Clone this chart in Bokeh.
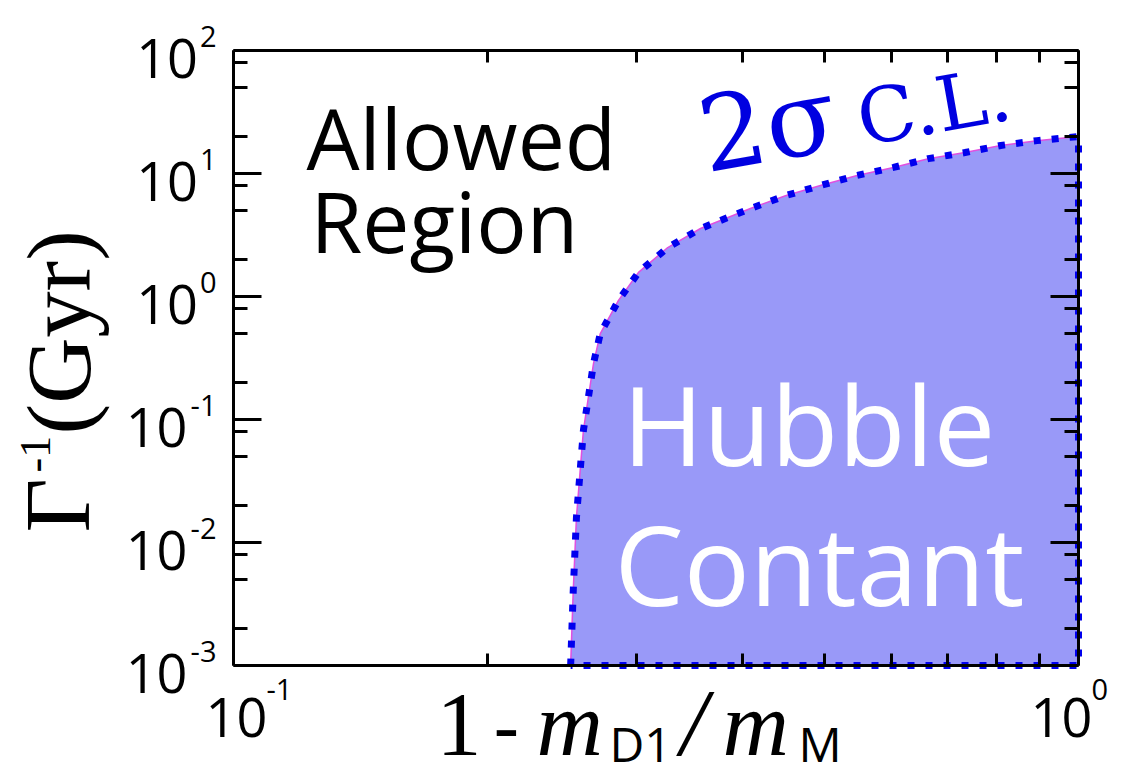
import math
from bokeh.plotting import figure
from bokeh.models import Range1d, FixedTicker, LogAxis, Label
from bokeh.embed import file_html
from bokeh.resources import INLINE

# ---------------- data ----------------
mass_gap = [0.2506, 0.2524, 0.2546, 0.2576, 0.2595, 0.263, 0.2667, 0.2717, 0.2855,
            0.3015, 0.3265, 0.357, 0.409, 0.450, 0.495, 0.547, 0.604, 0.664,
            0.734, 0.809, 0.893, 1.0]
lifetime_gyr = [0.001, 0.0041, 0.016, 0.044, 0.082, 0.151, 0.285, 0.5, 0.93,
                1.57, 2.5, 3.57, 5.19, 6.6, 7.98, 9.64, 11.2, 13.2,
                14.8, 16.9, 18.5, 20.0]
x_tick_exponents = [-1, 0]
y_tick_exponents = [2, 1, 0, -1, -2, -3]
tick_base = "10"
x_minor_mantissas = [2, 3, 4, 5, 6, 7, 8, 9]
y_minor_mantissas = [2, 5, 8]

X0, X1 = 0.1, 1.0
Y0, Y1 = 1e-3, 1e2

# ---------------- layout (page pixels) ----------------
W, H = 1120, 778
BLEFT, BRIGHT, BTOP, BBOT = 4, 4, 4, 2     # borders kept for the axis panels
BL, BT, BW, BH = 233, 50, 845, 615         # plot box on the page
LX0, LX1 = math.log10(X0), math.log10(X1)
LY0, LY1 = math.log10(Y0), math.log10(Y1)
KX = BW / (LX1 - LX0)
KY = BH / (LY1 - LY0)


def X(px):
    return 10 ** (LX0 + (px - BL) / KX)


def Y(py):
    return 10 ** (LY1 - (py - BT) / KY)


def PX(x):
    return BL + (math.log10(x) - LX0) * KX


def PY(y):
    return BT + (LY1 - math.log10(y)) * KY


p = figure(x_axis_type="log", y_axis_type="log",
           x_range=Range1d(X(BLEFT), X(W - BRIGHT)), y_range=Range1d(Y(H - BBOT), Y(BTOP)),
           frame_width=W - BLEFT - BRIGHT, frame_height=H - BTOP - BBOT,
           min_border_left=BLEFT, min_border_right=BRIGHT,
           min_border_top=BTOP, min_border_bottom=BBOT,
           output_backend="svg", toolbar_location=None)
p.grid.visible = False
p.background_fill_color = "white"
p.border_fill_color = "white"
p.outline_line_color = None

x_major = [10.0 ** e for e in x_tick_exponents]
y_major = [10.0 ** e for e in y_tick_exponents]
x_minor = [m * 10.0 ** e for e in range(-1, 0) for m in x_minor_mantissas]
y_minor = [m * 10.0 ** e for e in range(-3, 2) for m in y_minor_mantissas]

top_axis = LogAxis()
right_axis = LogAxis()
p.add_layout(top_axis, "above")
p.add_layout(right_axis, "right")

for ax in p.xaxis:
    ax.ticker = FixedTicker(ticks=x_major, minor_ticks=x_minor)
    ax.bounds = (X0, X1)
    ax.major_tick_in = 26
    ax.minor_tick_in = 12
for ax in p.yaxis:
    ax.ticker = FixedTicker(ticks=y_major, minor_ticks=y_minor)
    ax.bounds = (Y0, Y1)
    ax.major_tick_in = 28
    ax.minor_tick_in = 14
p.below[0].fixed_location = Y0
top_axis.fixed_location = Y1
p.left[0].fixed_location = X0
right_axis.fixed_location = X1
for ax in list(p.xaxis) + list(p.yaxis):
    ax.major_tick_out = 0
    ax.minor_tick_out = 0
    ax.axis_line_width = 3
    ax.axis_line_color = "black"
    ax.major_tick_line_width = 3
    ax.minor_tick_line_width = 3
    ax.major_tick_line_color = "black"
    ax.minor_tick_line_color = "black"
    ax.major_label_text_font_size = "1px"
    ax.major_label_text_alpha = 0.0
    ax.major_label_standoff = 0

# ---------------- region ----------------
patch_x = mass_gap + [X1]
patch_y = lifetime_gyr + [Y0]
p.patch(patch_x, patch_y, fill_color="#9999f8", line_color=None)
edge_x = patch_x + [mass_gap[0]]
edge_y = patch_y + [lifetime_gyr[0]]
p.line(edge_x, edge_y, line_color="#e050e0", line_width=1.5)
p.line(edge_x, edge_y, line_color="#0000ee", line_width=7, line_dash="7 11")

SANS = "Open Sans"
SERIF = "Liberation Serif"
DSERIF = "DejaVu Serif"
MID = {SANS: 0.388, SERIF: 0.338, DSERIF: 0.346}   # em-box middle above baseline


def lab(px, py, text, size, font=SANS, color="black", angle=0.0, align="left",
        style="normal"):
    """Place text whose baseline starts at page pixel (px, py)."""
    k = MID[font] * size
    ax = px - k * math.sin(angle)
    ay = py - k * math.cos(angle)
    p.add_layout(Label(x=X(ax), y=Y(ay), text=text, text_font=font,
                       text_font_size=f"{size}px", text_color=color, angle=angle,
                       text_align=align, text_baseline="alphabetic",
                       text_font_style=style))


def exp_width(s, size):
    return sum(0.36 * size if c == "-" else 0.572 * size for c in s)


# ---------------- tick labels ----------------
BASE_SIZE, EXP_SIZE = 54, 29
for e in y_tick_exponents:
    ty = PY(10.0 ** e)
    es = str(e)
    lab(216, ty - 3, es, EXP_SIZE, align="right")
    lab(216 - exp_width(es, EXP_SIZE) - 2, ty + 29, tick_base, BASE_SIZE, align="right")

x_label_shift = [0, -20]
for e, sh in zip(x_tick_exponents, x_label_shift):
    tx = PX(10.0 ** e)
    left = tx - 28 + sh
    lab(left, PY(Y0) + 73, tick_base, BASE_SIZE)
    lab(left + 61, PY(Y0) + 35, str(e), EXP_SIZE)

# ---------------- axis titles ----------------
lab(436, 755, "1", 90, SERIF)
lab(493, 757, "-", 80, SANS)
lab(536, 755, "m", 92, SERIF, style="italic")
lab(609, 762, "D1", 48, SANS)
lab(680, 754, "/", 96, SERIF, style="italic")
lab(722, 755, "m", 92, SERIF, style="italic")
lab(798, 762, "M", 48, SANS)

ang = math.pi / 2
lab(88, 532, "Γ", 94, SERIF, angle=ang)
lab(50, 472, "-1", 44, SERIF, angle=ang)
lab(90, 434, "(Gyr)", 92, SERIF, angle=ang)

# ---------------- annotations ----------------
lab(306, 170, "Allowed", 84)
lab(310, 253, "Region", 84)
lab(622, 465, "Hubble", 110, color="white")
lab(614, 605, "Contant", 110, color="white")

rot = math.radians(10)
lab(706, 172, "2σ", 104, DSERIF, color="#0000e0", angle=rot)
lab(862, 145, "C.L.", 76, DSERIF, color="#0000e0", angle=rot)

open("out.html", "w").write(file_html(p, INLINE))
